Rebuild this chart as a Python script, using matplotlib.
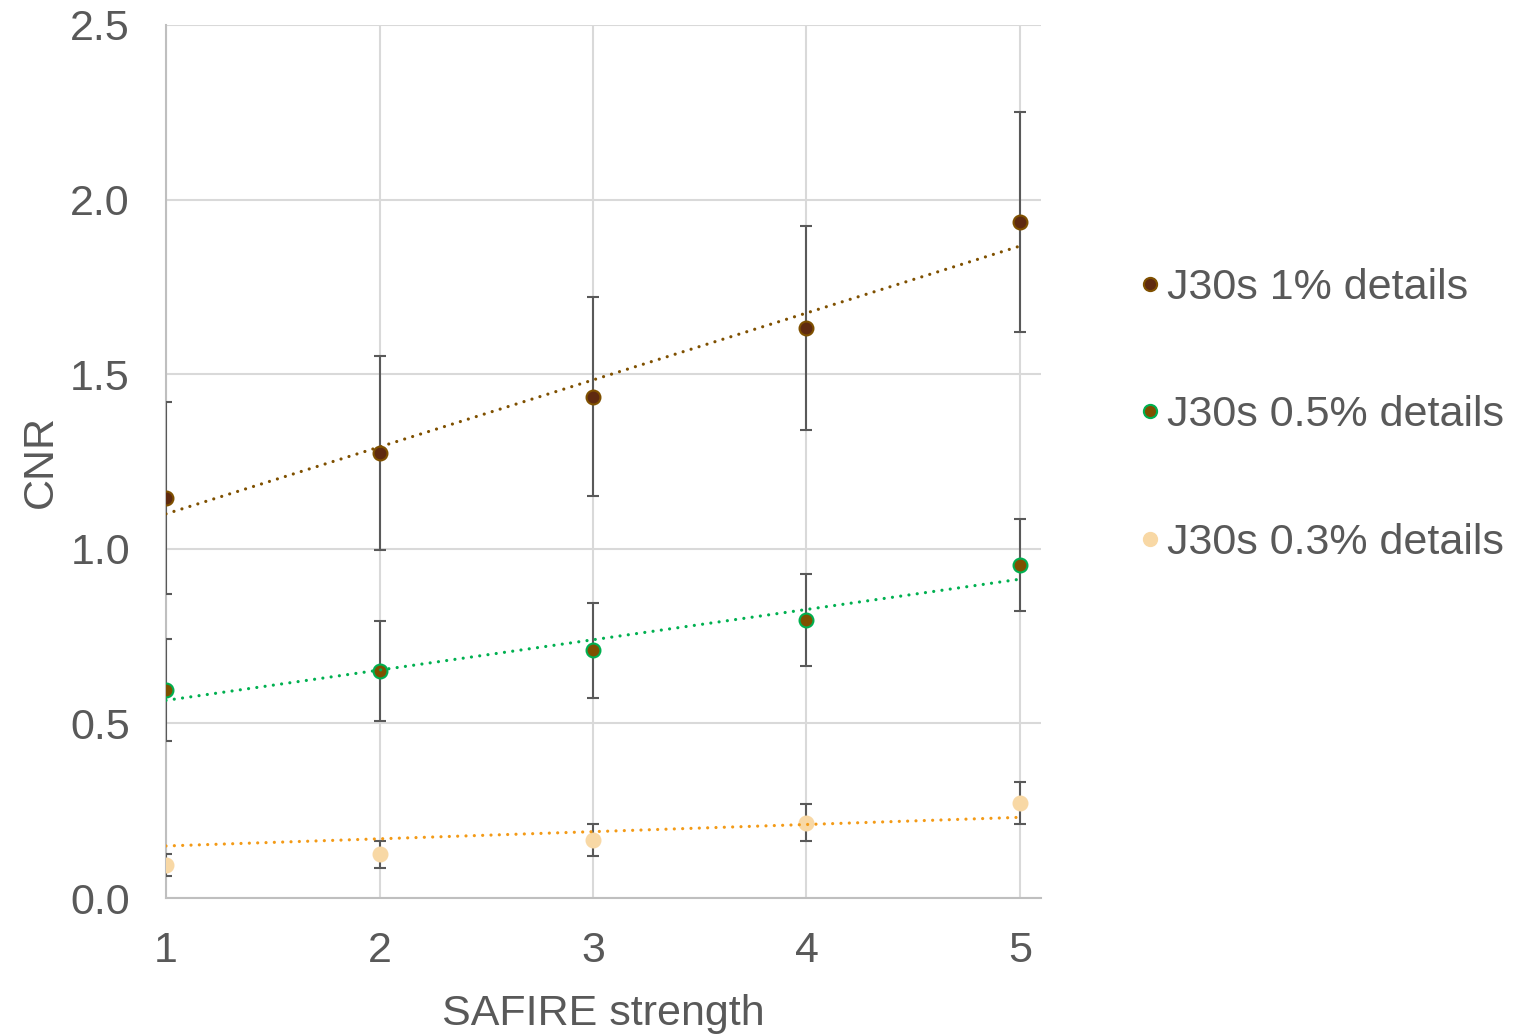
import numpy as np
import matplotlib
matplotlib.use("Agg")
import matplotlib.pyplot as plt
from matplotlib.lines import Line2D

plt.rcParams['font.family'] = ['Liberation Sans', 'DejaVu Sans']

x = [1, 2, 3, 4, 5]
labels = ["J30s 1% details", "J30s 0.5% details", "J30s 0.3% details"]

cnr_1pct = [1.145, 1.274, 1.435, 1.632, 1.936]
err_1pct = [0.275, 0.278, 0.285, 0.293, 0.315]
cnr_05pct = [0.596, 0.650, 0.710, 0.796, 0.954]
err_05pct = [0.147, 0.142, 0.136, 0.132, 0.132]
cnr_03pct = [0.095, 0.125, 0.166, 0.215, 0.271]
err_03pct = [0.031, 0.038, 0.046, 0.053, 0.060]

# trendline values at x=1 and x=5 as shown in chart
trend_x = [1, 5]
trend_1pct = [1.100, 1.867]
trend_05pct = [0.566, 0.913]
trend_03pct = [0.149, 0.231]

series = [
    (cnr_1pct, err_1pct, trend_1pct, "#5F2A10", "#7F5000", "#7F5000"),
    (cnr_05pct, err_05pct, trend_05pct, "#7F5000", "#00B050", "#00B050"),
    (cnr_03pct, err_03pct, trend_03pct, "#F8D8A5", "#F8D8A5", "#F39A16"),
]

W, H = 1514, 1034
fig = plt.figure(figsize=(W / 100, H / 100), dpi=100)
ax = fig.add_axes([166 / W, (H - 898) / H, (1041 - 166) / W, (898 - 25) / H])

grid_c = "#D9D9D9"
text_c = "#595959"
FS = 31

for (y, e, t, fc, ec, tc), lab in zip(series, labels):
    ax.errorbar(x, y, yerr=e, fmt="none", ecolor="#595959", elinewidth=1.5,
                capsize=4.3, capthick=1.5, zorder=3)
    ax.plot(x, y, "o", ms=10, mfc=fc, mec=ec, mew=1.5, zorder=4, label=lab)
    ax.plot(trend_x, t, color=tc, lw=2.3, linestyle=(0, (0.01, 2.6)),
            dash_capstyle="round", zorder=5)

ax.set_xlim(1, 5 + (1041 - 1020) / 213.5)
ax.set_ylim(0, 2.5)
ax.set_xticks(x)
ax.set_yticks([0, 0.5, 1.0, 1.5, 2.0, 2.5])
ax.set_yticklabels(["0.0", "0.5", "1.0", "1.5", "2.0", "2.5"])
ax.grid(True, color=grid_c, lw=1.5)
ax.set_axisbelow(True)
for s in ["top", "right"]:
    ax.spines[s].set_visible(False)
for s in ["left", "bottom"]:
    ax.spines[s].set_color("#BFBFBF")
    ax.spines[s].set_linewidth(1.5)
ax.tick_params(axis="both", length=0, labelsize=FS, labelcolor=text_c)
ax.tick_params(axis="y", pad=26)
ax.tick_params(axis="x", pad=24)

ax.set_xlabel("SAFIRE strength", fontsize=FS, color=text_c, labelpad=16)
ax.set_ylabel("CNR", fontsize=FS, color=text_c, labelpad=7)

handles = []
for (y, e, t, fc, ec, tc) in series:
    handles.append(Line2D([], [], marker="o", ls="none", ms=9.5, mfc=fc, mec=ec, mew=1.5))
leg = fig.legend(handles, labels, loc="upper left", bbox_to_anchor=(1126 / W, 1 - 268 / H),
                 frameon=False, fontsize=FS, labelcolor=text_c, handletextpad=-0.15,
                 labelspacing=2.03, handlelength=1.1, borderpad=0, borderaxespad=0)

fig.savefig("out.png", dpi=100)
